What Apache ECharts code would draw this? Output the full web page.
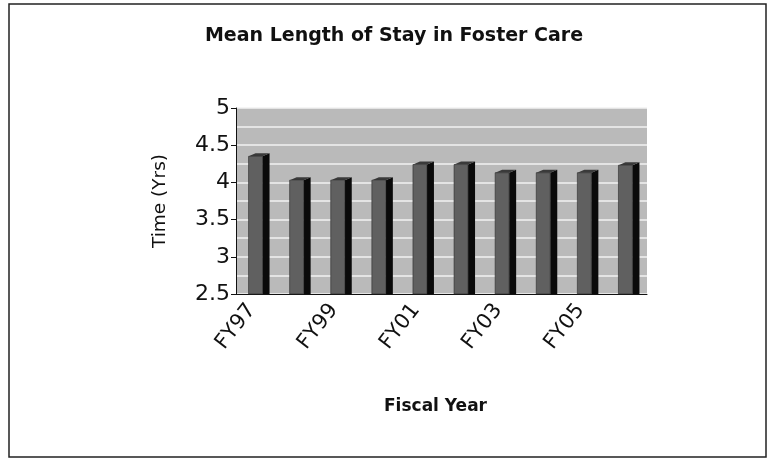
<!DOCTYPE html>
<html>
<head>
<meta charset="utf-8">
<script src="https://cdn.jsdelivr.net/npm/echarts@6/dist/echarts.min.js"></script>
<style>
  html, body { margin: 0; padding: 0; background: #fff; }
  #chart { width: 768px; height: 459px; }
</style>
</head>
<body>
<div id="chart"></div>
<script>
// Mean length of stay in foster care, by fiscal year (years)
const fiscalYears = ['FY97', 'FY98', 'FY99', 'FY00', 'FY01', 'FY02', 'FY03', 'FY04', 'FY05', 'FY06'];
const meanStay = [4.35, 4.03, 4.03, 4.03, 4.24, 4.24, 4.13, 4.13, 4.13, 4.23];
const yTicks = { min: 2.5, max: 5, step: 0.5 };

const chart = echarts.init(document.getElementById('chart'), null, { renderer: 'canvas' });
const font = '"DejaVu Sans", Verdana, sans-serif';

// Column with a dark front face, black side face and a thin top face
function renderColumn(params, api) {
  const top = api.coord([api.value(0), api.value(1)]);
  const base = api.coord([api.value(0), yTicks.min]);
  const w = 14, d = 7, rise = 3;
  const x0 = top[0] - w / 2 - 1;
  const x1 = x0 + w;
  return {
    type: 'group',
    children: [
      {
        type: 'polygon',
        shape: { points: [[x1, top[1]], [x1 + d, top[1] - rise], [x1 + d, base[1]], [x1, base[1]]] },
        style: { fill: '#0a0a0a' }
      },
      {
        type: 'polygon',
        shape: { points: [[x0, top[1]], [x0 + d, top[1] - rise], [x1 + d, top[1] - rise], [x1, top[1]]] },
        style: { fill: '#3a3a3a' }
      },
      {
        type: 'rect',
        shape: { x: x0, y: top[1], width: w, height: base[1] - top[1] },
        style: { fill: '#606060', stroke: '#2a2a2a', lineWidth: 0.6 }
      }
    ]
  };
}

chart.setOption({
  animation: false,
  backgroundColor: '#ffffff',
  graphic: [{
    type: 'rect',
    shape: { x: 9, y: 4, width: 757, height: 453 },
    style: { fill: 'none', stroke: '#222', lineWidth: 1.5 },
    silent: true
  }],
  title: {
    text: 'Mean Length of Stay in Foster Care',
    left: 389, top: 22, textAlign: 'center',
    textStyle: { fontFamily: font, fontSize: 19, fontWeight: 'bold', color: '#111' }
  },
  grid: {
    left: 236, right: 121, top: 108, bottom: 165,
    show: true, backgroundColor: '#bababa', borderWidth: 0
  },
  xAxis: {
    type: 'category',
    data: fiscalYears,
    name: 'Fiscal Year',
    nameLocation: 'middle',
    nameGap: 104,
    nameTextStyle: { fontFamily: font, fontSize: 17, fontWeight: 'bold', color: '#111', padding: [0, 12, 0, 0] },
    axisLine: { lineStyle: { color: '#111', width: 1 } },
    axisTick: { interval: 0, length: 5, lineStyle: { color: '#111' } },
    axisLabel: {
      interval: 1, rotate: 52, margin: 6,
      fontFamily: font, fontSize: 21, color: '#111',
      padding: [0, 8, 0, 0]
    },
    splitLine: { show: false }
  },
  yAxis: {
    type: 'value',
    min: yTicks.min, max: yTicks.max, interval: yTicks.step,
    name: 'Time (Yrs)',
    nameLocation: 'middle',
    nameGap: 66,
    nameTextStyle: { fontFamily: font, fontSize: 18.5, color: '#111' },
    axisLine: { show: true, lineStyle: { color: '#111', width: 1 } },
    axisTick: { show: true, length: 5, lineStyle: { color: '#111' } },
    axisLabel: { fontFamily: font, fontSize: 22, color: '#111', margin: 6 },
    splitLine: { show: true, lineStyle: { color: '#f2f2f2', width: 1.5 } },
    minorTick: { show: false, splitNumber: 2 },
    minorSplitLine: { show: true, lineStyle: { color: '#f2f2f2', width: 1.5 } }
  },
  series: [{
    type: 'custom',
    renderItem: renderColumn,
    encode: { x: 0, y: 1 },
    data: fiscalYears.map((fy, i) => [i, meanStay[i]])
  }]
});
</script>
</body>
</html>
